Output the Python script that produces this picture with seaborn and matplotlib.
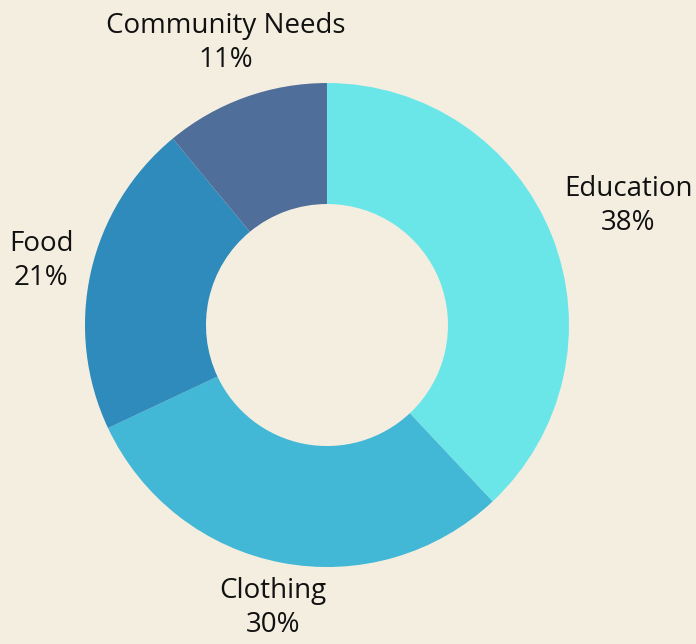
import numpy as np
import matplotlib
matplotlib.use("Agg")
import matplotlib.pyplot as plt
import seaborn as sns

# data
categories = ["Education", "Clothing", "Food", "Community Needs"]
shares = [38, 30, 21, 11]
colors = ["#6AE6E9", "#42B8D6", "#2E8BBC", "#4F6E9A"]
label_dist = [1.34, 1.19, 1.21, 1.24]

sns.set_theme(style="white")
plt.rcParams['font.family'] = ['Open Sans', 'DejaVu Sans']
bg = "#F4EEE1"

fig = plt.figure(figsize=(6.96, 6.44), dpi=100, facecolor=bg)
ax = fig.add_axes([0.4698 - 0.3477, 0.4953 - 0.3758, 0.6954, 0.7516])
ax.set_facecolor(bg)

wedges, _ = ax.pie(shares, colors=sns.color_palette(colors), startangle=90,
                   counterclock=False, radius=1.0,
                   wedgeprops=dict(width=0.5, linewidth=0))

# labels centred on each wedge's middle angle
for w, name, val, d in zip(wedges, categories, shares, label_dist):
    ang = np.deg2rad((w.theta1 + w.theta2) / 2)
    ax.text(d * np.cos(ang), d * np.sin(ang), f"{name}\n{val}%",
            ha="center", va="center", fontsize=20, color="#111111",
            linespacing=1.3)

ax.set_xlim(-1, 1)
ax.set_ylim(-1, 1)
ax.set_aspect("equal")
ax.axis("off")

fig.savefig("out.png", dpi=100, facecolor=bg)
